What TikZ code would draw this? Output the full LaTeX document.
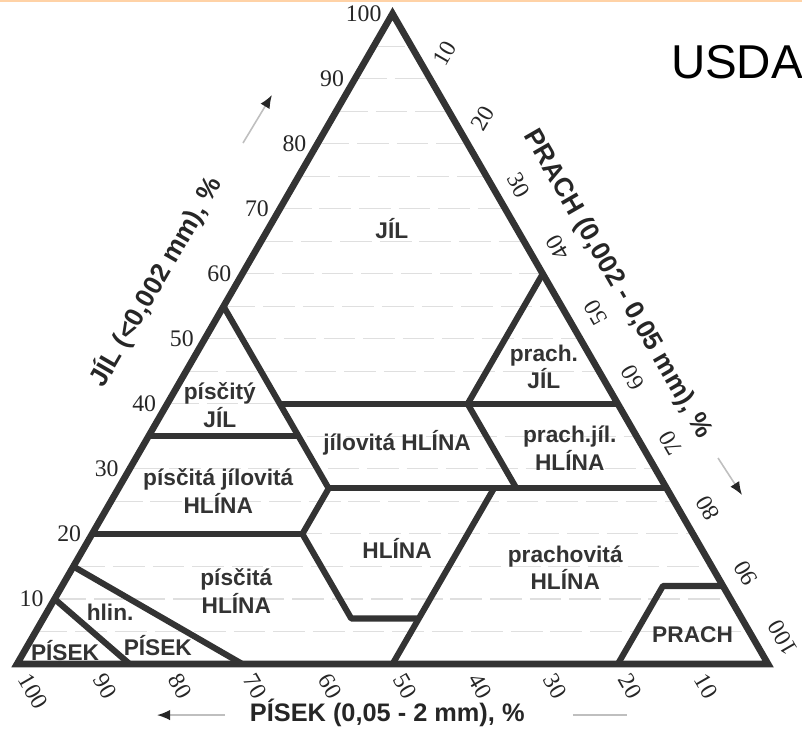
\documentclass[tikz,border=0pt]{standalone}
\usepackage{fontspec}
\setmainfont{Liberation Serif}
\setsansfont{Liberation Sans}
\usetikzlibrary{arrows.meta,calc}

\tikzset{
  border/.style={line width=2.5pt, draw=black!80, line join=miter},
  bound/.style={line width=2.3pt, draw=black!80, line join=round},
  faint/.style={gray!25, line width=0.4pt, dash pattern=on 12pt off 3pt},
  class/.style={font=\sffamily\bfseries\fontsize{8.6}{10.4}\selectfont, text=black!80, align=center, inner sep=1pt},
  tick/.style={font=\fontsize{9}{10}\selectfont, text=black!85, inner sep=1pt},
  axis title/.style={font=\sffamily\bfseries\fontsize{10}{12}\selectfont, text=black!85, inner sep=1pt},
  axis arrow/.style={gray!50, line width=0.6pt, -{Latex[length=5pt,width=4pt,color=black!85]}},
}

\begin{document}
\begin{tikzpicture}[x={(0.1cm,0cm)}, y={(0.05cm,0.0866cm)}]
    \useasboundingbox (-0.2264cm,-0.8922cm) rectangle (10.4527cm,8.8415cm);
    \fill[orange!35] (-0.2264cm,8.81cm) rectangle (10.4527cm,8.8415cm);

    % Define corners (silt, clay)
    \coordinate (sand) at (0,0);
    \coordinate (silt) at (100,0);
    \coordinate (clay) at (0,100);

    % Define class corners
    \coordinate (k1) at (0,55);
    \coordinate (k2) at (15,40);
    \coordinate (k3) at (20,35);
    \coordinate (k4) at (28,27);
    \coordinate (k5) at (28,20);
    \coordinate (k6) at (41,7);
    \coordinate (k7) at (50,7);
    \coordinate (k9) at (50,27);
    \coordinate (m1) at (40,60);
    \coordinate (m2) at (40,40);
    \coordinate (m3) at (60,40);
    \coordinate (m4) at (53,27);
    \coordinate (r27) at (73,27);
    \coordinate (l35) at (0,35);
    \coordinate (l20) at (0,20);
    \coordinate (l15) at (0,15);
    \coordinate (l10) at (0,10);
    \coordinate (b15) at (15,0);
    \coordinate (b30) at (30,0);
    \coordinate (b50) at (50,0);
    \coordinate (b80) at (80,0);
    \coordinate (s12) at (80,12);
    \coordinate (r12) at (88,12);

    % Faint grid
    \foreach \cl in {5,10,...,95}
        \draw[faint] (0,\cl) -- ({100-\cl},\cl);

    % Draw class boundaries
    \draw[bound] (k1) -- (k4) -- (k5) -- (k6) -- (k7);
    \draw[bound] (m1) -- (m2) -- (m4);
    \draw[bound] (k2) -- (m3);
    \draw[bound] (l35) -- (k3);
    \draw[bound] (k4) -- (r27);
    \draw[bound] (l20) -- (k5);
    \draw[bound] (b50) -- (k9);
    \draw[bound] (l15) -- (b30);
    \draw[bound] (l10) -- (b15);
    \draw[bound] (b80) -- (s12) -- (r12);
    \draw[border] (sand) -- (silt) -- (clay) -- cycle;

    % Tick labels
    \foreach \v in {10,20,...,100} {
        \node[tick, anchor=east] (cl\v) at ([xshift=-3pt]0,\v) {\v};
        \node[tick, anchor=west, rotate=-60] (sa\v) at ($({100-\v},0)+(-60:4pt)$) {\v};
    }
    \foreach \v in {10,20}
        \node[tick, rotate=60] (si\v) at ($(\v,{100-\v})+(60:0.39cm)$) {\v};
    \node[tick, rotate=-60] (si30) at ($(30,70)+(60:0.36cm)$) {30};
    \foreach \v in {40,50,...,100}
        \node[tick, rotate=120] (si\v) at ($(\v,{100-\v})+(60:0.4cm)$) {\v};

    % Class names
    \node[class] (jil) at (16.4,67) {JÍL};
    \node[class] (prachjil) at (47.3,45.7) {prach.\\JÍL};
    \node[class] (piscjil) at (7.1,39.8) {písčitý\\JÍL};
    \node[class] (jilhl) at (33.6,34) {jílovitá HLÍNA};
    \node[class] (prachjilhl) at (57,33.2) {prach.jíl.\\HLÍNA};
    \node[class] (piscjilhl) at (13.5,26.6) {písčitá jílovitá\\HLÍNA};
    \node[class] (hlina) at (41.7,17.8) {HLÍNA};
    \node[class] (prachhl) at (65.6,14.8) {prachovitá\\HLÍNA};
    \node[class] (pischl) at (23.6,11.2) {písčitá\\HLÍNA};
    \node[class] (hlin) at (8.4,8) {hlin.};
    \node[class] (hlinpis) at (17.3,2.9) {PÍSEK};
    \node[class] (pisek) at (5.4,2) {PÍSEK};
    \node[class] (prach) at (87.7,4.5) {PRACH};

    % Axis titles
    \node[axis title, rotate=60] (claytitle) at ($(0,53.3)+(150:0.95cm)$) {JÍL (<0,002 mm), \%};
    \node[axis title, rotate=-60] (silttitle) at ($(46.2,53.8)+(30:0.79cm)$) {PRACH (0,002 - 0,05 mm), \%};
    \node[axis title, font=\sffamily\bfseries\fontsize{9.6}{12}\selectfont] (sandtitle) at (4.93cm,-0.65cm) {PÍSEK (0,05 - 2 mm), \%};

    % Axis arrows
    \coordinate (claytail) at (3.009cm,6.937cm);
    \coordinate (claytip) at (3.395cm,7.577cm);
    \coordinate (silttail) at (9.334cm,2.743cm);
    \coordinate (silttip) at (9.654cm,2.250cm);
    \coordinate (sandtail) at (2.77cm,-0.68cm);
    \coordinate (sandtip) at (1.864cm,-0.68cm);
    \coordinate (sandend1) at (7.40cm,-0.68cm);
    \coordinate (sandend2) at (8.12cm,-0.68cm);
    \draw[axis arrow] (claytail) -- (claytip);
    \draw[axis arrow] (silttail) -- (silttip);
    \draw[axis arrow] (sandtail) -- (sandtip);
    \draw[gray!50, line width=0.6pt] (sandend1) -- (sandend2);

    \node[font=\sffamily\fontsize{18}{20}\selectfont] (usda) at (9.587cm,8.016cm) {USDA};

\end{tikzpicture}
\end{document}
